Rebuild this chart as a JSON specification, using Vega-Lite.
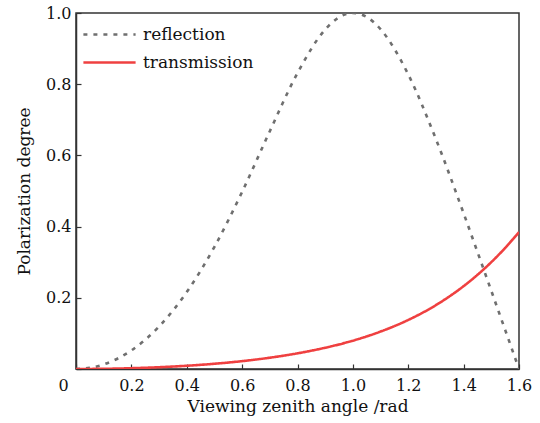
{
  "$schema": "https://vega.github.io/schema/vega-lite/v6.json",
  "autosize": {"type": "none"},
  "padding": {"left": 76, "top": 13, "right": 21, "bottom": 54},
  "width": 443,
  "height": 356,
  "data": {"values": [
    {"x": 0, "y": 0, "s": "reflection"},
    {"x": 0.05, "y": 0.0032, "s": "reflection"},
    {"x": 0.1, "y": 0.0129, "s": "reflection"},
    {"x": 0.2, "y": 0.0522, "s": "reflection"},
    {"x": 0.3, "y": 0.1192, "s": "reflection"},
    {"x": 0.4, "y": 0.216, "s": "reflection"},
    {"x": 0.5, "y": 0.3432, "s": "reflection"},
    {"x": 0.6, "y": 0.4975, "s": "reflection"},
    {"x": 0.7, "y": 0.668, "s": "reflection"},
    {"x": 0.8, "y": 0.8315, "s": "reflection"},
    {"x": 0.9, "y": 0.9535, "s": "reflection"},
    {"x": 0.95, "y": 0.9878, "s": "reflection"},
    {"x": 1.0, "y": 1.0, "s": "reflection"},
    {"x": 1.05, "y": 0.9887, "s": "reflection"},
    {"x": 1.1, "y": 0.9545, "s": "reflection"},
    {"x": 1.2, "y": 0.8274, "s": "reflection"},
    {"x": 1.3, "y": 0.6457, "s": "reflection"},
    {"x": 1.4, "y": 0.4372, "s": "reflection"},
    {"x": 1.45, "y": 0.3288, "s": "reflection"},
    {"x": 1.5, "y": 0.2195, "s": "reflection"},
    {"x": 1.55, "y": 0.1098, "s": "reflection"},
    {"x": 1.6, "y": 0, "s": "reflection"},
    {"x": 0, "y": 0, "s": "transmission"},
    {"x": 0.1, "y": 0.0005, "s": "transmission"},
    {"x": 0.2, "y": 0.0022, "s": "transmission"},
    {"x": 0.3, "y": 0.005, "s": "transmission"},
    {"x": 0.4, "y": 0.0091, "s": "transmission"},
    {"x": 0.5, "y": 0.0147, "s": "transmission"},
    {"x": 0.6, "y": 0.0221, "s": "transmission"},
    {"x": 0.7, "y": 0.0317, "s": "transmission"},
    {"x": 0.8, "y": 0.044, "s": "transmission"},
    {"x": 0.9, "y": 0.0597, "s": "transmission"},
    {"x": 0.95, "y": 0.069, "s": "transmission"},
    {"x": 1.0, "y": 0.0796, "s": "transmission"},
    {"x": 1.05, "y": 0.0916, "s": "transmission"},
    {"x": 1.1, "y": 0.1052, "s": "transmission"},
    {"x": 1.2, "y": 0.1378, "s": "transmission"},
    {"x": 1.3, "y": 0.1795, "s": "transmission"},
    {"x": 1.4, "y": 0.2328, "s": "transmission"},
    {"x": 1.45, "y": 0.2645, "s": "transmission"},
    {"x": 1.5, "y": 0.3002, "s": "transmission"},
    {"x": 1.55, "y": 0.3401, "s": "transmission"},
    {"x": 1.6, "y": 0.3846, "s": "transmission"}
  ]},
  "mark": {"type": "line", "interpolate": "monotone", "strokeWidth": 2.6, "clip": true},
  "encoding": {
    "x": {
      "field": "x", "type": "quantitative",
      "scale": {"domain": [0, 1.6], "nice": false, "zero": false},
      "axis": {
        "title": "Viewing zenith angle /rad",
        "values": [0, 0.2, 0.4, 0.6, 0.8, 1.0, 1.2, 1.4, 1.6],
        "labelExpr": "datum.value == 0 ? '0' : format(datum.value, '.1f')",
        "labelOffset": {"condition": {"test": "datum.value == 0", "value": -13}, "value": 0},
        "labelFlush": false,
        "grid": false,
        "tickSize": -5,
        "labelPadding": 13,
        "titlePadding": 5
      }
    },
    "y": {
      "field": "y", "type": "quantitative",
      "scale": {"domain": [0, 1.0], "nice": false},
      "axis": {
        "title": "Polarization degree",
        "values": [0, 0.2, 0.4, 0.6, 0.8, 1.0],
        "labelExpr": "datum.value == 0 ? '' : format(datum.value, '.1f')",
        "grid": false,
        "tickSize": -5,
        "labelPadding": 10,
        "titlePadding": 12
      }
    },
    "color": {
      "field": "s", "type": "nominal",
      "scale": {"domain": ["reflection", "transmission"], "range": ["#6f6f6f", "#ef4040"]},
      "legend": {
        "title": null,
        "orient": "none",
        "legendX": 23,
        "legendY": 11,
        "symbolType": "M-2.9,0H2.9",
        "symbolSize": 324,
        "symbolStrokeWidth": 2.6,
        "labelFont": "DejaVu Serif",
        "labelFontSize": 17,
        "labelColor": "#111",
        "labelOffset": 23,
        "rowPadding": 9
      }
    },
    "strokeDash": {
      "field": "s", "type": "nominal",
      "scale": {"domain": ["reflection", "transmission"], "range": [[4, 6], [1, 0]]},
      "legend": null
    }
  },
  "config": {
    "view": {"stroke": "#333", "strokeWidth": 1.5},
    "axis": {
      "domainColor": "#333",
      "domainWidth": 1.5,
      "tickColor": "#333",
      "tickWidth": 1.2,
      "labelFont": "DejaVu Serif",
      "labelFontSize": 16,
      "labelColor": "#111",
      "titleFont": "DejaVu Serif",
      "titleFontSize": 17,
      "titleFontWeight": "normal",
      "titleColor": "#111"
    }
  }
}
